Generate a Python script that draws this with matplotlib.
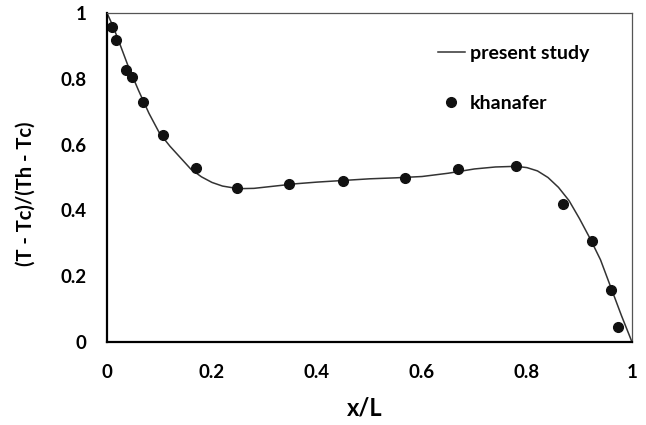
import matplotlib
matplotlib.use("Agg")
import matplotlib.pyplot as plt

plt.rcParams['font.family'] = ['Lato', 'DejaVu Sans']

# present study (curve)
curve_x = [0, 0.01, 0.02, 0.04, 0.06, 0.08, 0.10, 0.12, 0.14, 0.16, 0.18, 0.20, 0.22, 0.25,
           0.28, 0.32, 0.36, 0.40, 0.45, 0.50, 0.55, 0.60, 0.65, 0.70, 0.74, 0.78,
           0.80, 0.82, 0.84, 0.86, 0.88, 0.90, 0.92, 0.94, 0.96, 0.98, 1.0]
curve_y = [1.0, 0.965, 0.925, 0.84, 0.765, 0.695, 0.635, 0.595, 0.56, 0.525, 0.502, 0.485, 0.474, 0.466,
           0.467, 0.474, 0.481, 0.486, 0.491, 0.496, 0.499, 0.503, 0.513, 0.526, 0.532, 0.534,
           0.53, 0.52, 0.50, 0.47, 0.43, 0.375, 0.315, 0.25, 0.165, 0.08, 0.0]

# khanafer
kh_x = [0.0095, 0.017, 0.036, 0.048, 0.069, 0.107, 0.169, 0.247, 0.347, 0.449,
        0.568, 0.669, 0.779, 0.869, 0.924, 0.960, 0.973]
kh_y = [0.957, 0.919, 0.828, 0.805, 0.73, 0.63, 0.529, 0.469, 0.479, 0.489,
        0.50, 0.525, 0.536, 0.42, 0.307, 0.158, 0.046]

ticks = [0, 0.2, 0.4, 0.6, 0.8, 1]
tick_labels = ['0', '0.2', '0.4', '0.6', '0.8', '1']

fig = plt.figure(figsize=(6.46, 4.25), dpi=100)
ax = fig.add_axes([0.1656, 0.1953, 0.8127, 0.7741])

ax.plot(curve_x, curve_y, color='#333333', lw=1.1, label='present study')
ax.plot(kh_x, kh_y, 'o', color='#111111', ms=7, label='khanafer')

ax.set_xlim(0, 1)
ax.set_ylim(0, 1)
ax.set_xticks(ticks)
ax.set_xticklabels(tick_labels)
ax.set_yticks(ticks)
ax.set_yticklabels(tick_labels)
ax.tick_params(length=0, labelsize=13.5)
ax.tick_params(axis='x', pad=16)
ax.tick_params(axis='y', pad=15)
for lab in ax.get_xticklabels() + ax.get_yticklabels():
    lab.set_fontweight('bold')

for s in ['left', 'bottom']:
    ax.spines[s].set_color('black')
    ax.spines[s].set_linewidth(1.6)
for s in ['top', 'right']:
    ax.spines[s].set_color('#555555')
    ax.spines[s].set_linewidth(0.9)

ax.set_xlabel('x/L', fontsize=17, fontweight='bold')
ax.set_ylabel('(T - Tc)/(Th - Tc)', fontsize=14.5, fontweight='bold')
ax.xaxis.set_label_coords(0.491, -0.165)
ax.yaxis.set_label_coords(-0.135, 0.45)

ax.legend(loc='upper left', bbox_to_anchor=(0.630, 0.904), frameon=False,
          prop={'size': 14, 'weight': 'bold'}, handlelength=1.4,
          handletextpad=0.25, labelspacing=1.7, borderpad=0, borderaxespad=0)

plt.savefig('out.png', dpi=100)
plt.close()
